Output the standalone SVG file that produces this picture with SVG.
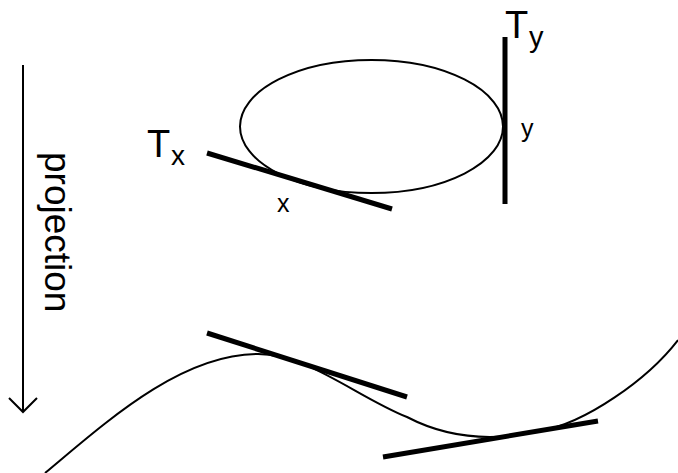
<svg xmlns="http://www.w3.org/2000/svg" width="678" height="473" viewBox="0 0 678 473">
<style>
.thin{fill:none;stroke:#000;stroke-width:2}
.thick{fill:none;stroke:#000;stroke-width:5}
text{font-family:"Liberation Sans",Arial,sans-serif;fill:#000}
</style>
<rect width="678" height="473" fill="#fff"/>
<g id="ellipse"><ellipse class="thin" cx="371.5" cy="126.5" rx="131.5" ry="66.5"/></g>
<g id="tangent-x">
<line class="thick" x1="207" y1="153" x2="392" y2="209"/>
<text x="147" y="157" font-size="38">T</text>
<text x="171" y="165" font-size="28">x</text>
<text x="277" y="212" font-size="25">x</text>
</g>
<g id="tangent-y">
<line class="thick" x1="505" y1="37" x2="505" y2="204"/>
<text x="505" y="38" font-size="38">T</text>
<text x="529" y="47" font-size="29">y</text>
<text x="521" y="137" font-size="25">y</text>
</g>
<g id="projection">
<line class="thin" x1="23" y1="65" x2="23" y2="411"/>
<polyline class="thin" points="9,398 23,412 37,398"/>
<text transform="translate(45,152) rotate(90)" font-size="37">projection</text>
</g>
<g id="curve">
<path class="thin" d="M45,473 C105,423 180,354 258,354 C308,354 357,397 407,417 C451,440 496,441 540,431 C586,423 648,379 678,340"/>
</g>
<g id="connectors">
<line class="thick" x1="207" y1="333" x2="407" y2="397"/>
<line class="thick" x1="383" y1="457" x2="598" y2="421"/>
</g>
</svg>
